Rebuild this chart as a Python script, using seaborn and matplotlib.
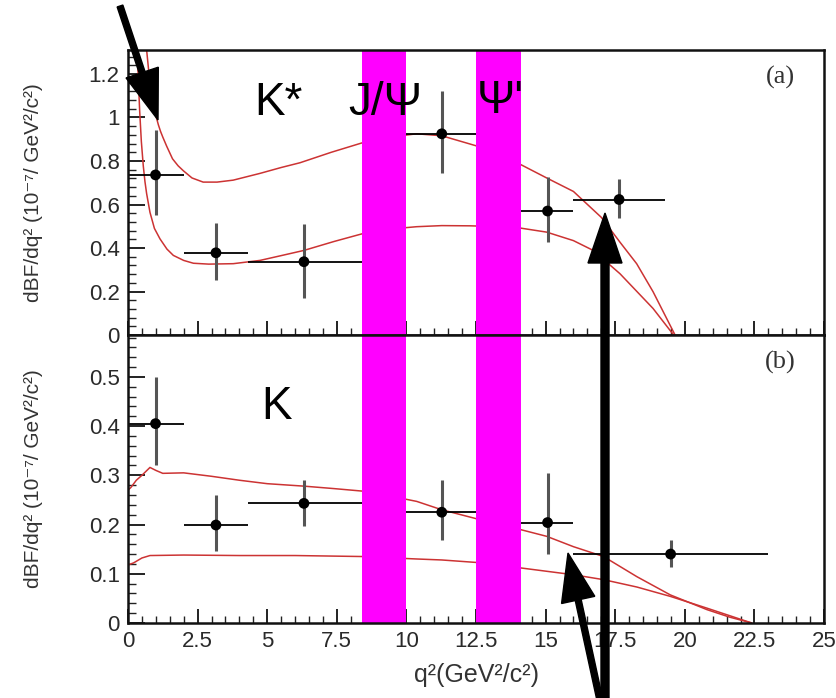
import matplotlib
matplotlib.use("Agg")
import matplotlib.pyplot as plt
from matplotlib.patches import FancyArrow
from matplotlib.ticker import MultipleLocator, AutoMinorLocator, FuncFormatter
from matplotlib.transforms import IdentityTransform
import seaborn as sns
import pandas as pd

# --- data ---
# K* panel (a): measured points
kst_q2 = [0.99, 3.16, 6.32, 11.27, 15.07, 17.64]
kst_bin_lo = [0.0, 2.0, 4.3, 10.0, 14.1, 16.0]
kst_bin_hi = [2.0, 4.3, 8.4, 12.5, 16.0, 19.3]
kst_y = [0.736, 0.378, 0.337, 0.925, 0.570, 0.623]
kst_y_lo = [0.552, 0.255, 0.171, 0.747, 0.427, 0.536]
kst_y_hi = [0.944, 0.515, 0.510, 1.124, 0.728, 0.719]

# K* theory curves
kst_up_q2 = [0.60, 0.67, 0.74, 0.80, 0.88, 0.95, 1.02, 1.09, 1.17, 1.25, 1.39, 1.60,
             1.80, 1.99, 2.30, 2.70, 3.20, 3.78, 4.74, 5.50, 6.18, 7.30, 8.40, 9.40,
             10.37, 11.27, 12.50, 13.30, 14.10, 15.07, 16.00, 17.00, 17.67, 18.27,
             18.86, 19.65]
kst_up_y = [1.45, 1.31, 1.22, 1.15, 1.09, 1.04, 1.00, 0.967, 0.936, 0.910, 0.868, 0.810,
            0.778, 0.755, 0.722, 0.703, 0.703, 0.712, 0.743, 0.770, 0.792, 0.840, 0.883,
            0.910, 0.925, 0.916, 0.870, 0.830, 0.784, 0.720, 0.660, 0.541, 0.427, 0.328,
            0.199, 0.0]
kst_lo_q2 = [0.28, 0.33, 0.38, 0.42, 0.48, 0.55, 0.61, 0.67, 0.79, 0.95, 1.15, 1.40,
             1.63, 2.00, 2.35, 2.90, 3.78, 4.74, 5.50, 6.32, 7.40, 8.40, 9.40, 10.37,
             11.27, 12.30, 13.30, 14.08, 15.04, 16.00, 16.71, 17.67, 18.86, 19.60]
kst_lo_y = [1.45, 1.31, 1.15, 1.03, 0.89, 0.777, 0.705, 0.650, 0.564, 0.490, 0.442, 0.395,
            0.366, 0.343, 0.330, 0.326, 0.328, 0.343, 0.365, 0.389, 0.430, 0.465, 0.487,
            0.498, 0.503, 0.502, 0.498, 0.492, 0.473, 0.434, 0.389, 0.282, 0.122, 0.0]

# K panel (b): measured points
k_q2 = [0.99, 3.16, 6.32, 11.27, 15.07, 19.49]
k_bin_lo = [0.0, 2.0, 4.3, 10.0, 14.1, 16.0]
k_bin_hi = [2.0, 4.3, 8.4, 12.5, 16.0, 23.0]
k_y = [0.405, 0.199, 0.243, 0.225, 0.204, 0.140]
k_y_lo = [0.321, 0.147, 0.197, 0.168, 0.140, 0.114]
k_y_hi = [0.500, 0.260, 0.291, 0.291, 0.305, 0.168]

# K theory curves
k_up_q2 = [0.0, 0.1, 0.3, 0.5, 0.79, 1.0, 1.25, 2.0, 3.0, 4.0, 5.0, 6.32, 7.4, 8.4,
           9.4, 10.37, 11.27, 12.5, 14.08, 15.04, 16.0, 17.08, 18.28, 19.48, 20.8,
           21.6, 22.4]
k_up_y = [0.270, 0.275, 0.290, 0.300, 0.316, 0.310, 0.304, 0.305, 0.298, 0.290, 0.283,
          0.278, 0.273, 0.268, 0.258, 0.247, 0.230, 0.212, 0.190, 0.176, 0.155, 0.135,
          0.094, 0.057, 0.027, 0.012, 0.0]
k_lo_q2 = [0.0, 0.2, 0.5, 0.79, 2.0, 4.0, 6.0, 8.4, 10.37, 11.27, 12.5, 14.08, 16.0,
           17.08, 18.28, 19.48, 20.8, 21.6, 22.4]
k_lo_y = [0.118, 0.122, 0.132, 0.137, 0.138, 0.137, 0.137, 0.135, 0.130, 0.128, 0.123,
          0.112, 0.098, 0.088, 0.073, 0.054, 0.030, 0.015, 0.0]

# charmonium veto windows
vetoes = [(8.4, 10.0), (12.5, 14.1)]

x_ticks = [0, 2.5, 5, 7.5, 10, 12.5, 15, 17.5, 20, 22.5, 25]

# --- style ---
sns.set_theme(style="ticks")
plt.rcParams["font.family"] = ["Liberation Sans", "DejaVu Sans"]

fig = plt.figure(figsize=(8.37, 6.98), dpi=100)
ax_a = fig.add_axes([0.1529, 0.520, 0.8316, 0.4083])
ax_b = fig.add_axes([0.1529, 0.1075, 0.8316, 0.4125], sharex=ax_a)

curve_color = "#cc3333"
fmt = FuncFormatter(lambda v, p: "%g" % round(v, 3))


def draw_panel(ax, q2, lo, hi, y, ylo, yhi, curves, ymax, ymajor, yminor):
    for xs, ys in curves:
        sns.lineplot(x=xs, y=ys, ax=ax, color=curve_color, lw=1.1, sort=False,
                     zorder=2)
    for a, b in vetoes:
        ax.axvspan(a, b, color="#ff00ff", lw=0, zorder=3)
    df = pd.DataFrame({"q2": q2, "y": y})
    xerr = [[q - l for q, l in zip(q2, lo)], [h - q for q, h in zip(q2, hi)]]
    yerr = [[v - l for v, l in zip(y, ylo)], [h - v for v, h in zip(y, yhi)]]
    ax.errorbar(q2, y, xerr=xerr, fmt="none", ecolor="black", elinewidth=1.3,
                capsize=0, zorder=4)
    ax.errorbar(q2, y, yerr=yerr, fmt="none", ecolor="#555555", elinewidth=2.2,
                capsize=0, zorder=4)
    sns.scatterplot(data=df, x="q2", y="y", ax=ax, color="black", s=60,
                    edgecolor="none", zorder=5, legend=False)
    ax.set_xlim(0, 25)
    ax.set_ylim(0, ymax)
    ax.xaxis.set_major_locator(MultipleLocator(2.5))
    ax.xaxis.set_minor_locator(AutoMinorLocator(5))
    ax.yaxis.set_major_locator(MultipleLocator(ymajor))
    ax.yaxis.set_minor_locator(MultipleLocator(yminor))
    ax.xaxis.set_major_formatter(fmt)
    ax.yaxis.set_major_formatter(fmt)
    ax.tick_params(which="both", direction="in", top=False, right=False,
                   labelsize=16, labelcolor="#2a2a2a", color="#222222", pad=6)
    ax.tick_params(axis="y", which="major", length=12, width=1.4)
    ax.tick_params(axis="y", which="minor", length=6, width=1.0)
    ax.tick_params(axis="x", which="major", length=10, width=1.4)
    ax.tick_params(axis="x", which="minor", length=5, width=1.0)
    for s in ax.spines.values():
        s.set_linewidth(1.8)
        s.set_color("#111111")
        s.set_zorder(6)
    ax.set_ylabel("dBF/dq² (10⁻⁷/ GeV²/c²)", fontsize=15, color="#333333")
    ax.yaxis.set_label_coords(-0.122, 0.5)
    ax.set_facecolor("white")


draw_panel(ax_a, kst_q2, kst_bin_lo, kst_bin_hi, kst_y, kst_y_lo, kst_y_hi,
           [(kst_up_q2, kst_up_y), (kst_lo_q2, kst_lo_y)], 1.31, 0.2, 0.04)
draw_panel(ax_b, k_q2, k_bin_lo, k_bin_hi, k_y, k_y_lo, k_y_hi,
           [(k_up_q2, k_up_y), (k_lo_q2, k_lo_y)], 0.585, 0.1, 0.02)

ax_a.tick_params(labelbottom=False)
ax_a.set_xlabel("")
ax_b.set_xticks(x_ticks)
ax_b.set_xlabel("q²(GeV²/c²)", fontsize=18, color="#333333", labelpad=8)

# panel tags and big labels
ax_a.text(0.937, 0.905, "(a)", transform=ax_a.transAxes, ha="center", va="center",
          fontsize=19, family="Liberation Serif", color="#333333")
ax_b.text(0.937, 0.905, "(b)", transform=ax_b.transAxes, ha="center", va="center",
          fontsize=19, family="Liberation Serif", color="#333333")

big = dict(fontsize=33, color="black", ha="center", va="center", zorder=7)
fig.text(278 / 837, 1 - 103 / 698, "K*", **big)
fig.text(385 / 837, 1 - 103 / 698, "J/Ψ", **big)
fig.text(500 / 837, 1 - 101 / 698, "Ψ'", **big)
fig.text(277 / 837, 1 - 407 / 698, "K", **big)

# black pointer arrows, in output pixel coordinates (y measured from bottom)
H = 698
arrows = [
    # tail x, tail y, tip x, tip y, shaft width, head width, head length
    (120, 6, 158, 120, 6, 34, 50),
    (605, 705, 605, 213, 8, 34, 50),
    (601, 705, 568, 553, 6, 34, 48),
]
for tx, ty, hx, hy, w, hw, hl in arrows:
    arr = FancyArrow(tx, H - ty, hx - tx, (H - hy) - (H - ty), width=w,
                     head_width=hw, head_length=hl, length_includes_head=True,
                     color="black", transform=IdentityTransform(), zorder=10)
    fig.add_artist(arr)

fig.savefig("out.png", dpi=100, facecolor="white")
